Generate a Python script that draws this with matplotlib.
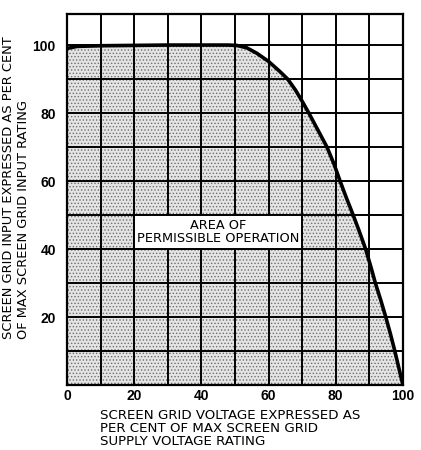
import numpy as np
import matplotlib.pyplot as plt
from matplotlib.patches import Rectangle

# curve (screen grid voltage %, screen grid input %)
voltage_pct = [0, 3, 10, 20, 30, 40, 48, 50.5, 53.5, 56.5, 60, 63.4, 65.7,
               68, 70, 72, 74.7, 77.4, 79.5, 81.3, 83.2, 85.2, 87.1, 88.9,
               90.4, 91.8, 93.4, 94.9, 96.3, 97.6, 98.8, 100]
input_pct = [99.0, 99.6, 99.8, 99.9, 100, 100, 100, 99.9, 99.2, 97.6, 95.2,
             92.2, 90, 86.8, 83.5, 80, 75, 70, 65, 60, 55, 50, 45, 40,
             35, 30, 25, 20, 15, 10, 5, 0]

x_ticks = [0, 20, 40, 60, 80, 100]
y_ticks = [20, 40, 60, 80, 100]
box_label = "AREA OF\nPERMISSIBLE OPERATION"

plt.rcParams['font.family'] = 'DejaVu Sans'
plt.rcParams['hatch.color'] = '#6e6e6e'
plt.rcParams['hatch.linewidth'] = 0.6

fig = plt.figure(figsize=(4.21, 4.5), dpi=100)
ax = fig.add_axes([0.159, 0.1444, 0.798, 0.825])

# stippled permissible area
ax.fill_between(voltage_pct, input_pct, 0, facecolor='#e4e4e4',
                edgecolor='#6e6e6e', hatch='.....', linewidth=0, zorder=1)

# heavy grid
for v in np.arange(10, 100, 10):
    ax.axvline(v, color='black', lw=1.4, zorder=2)
for v in np.arange(10, 101, 10):
    ax.axhline(v, color='black', lw=1.4, zorder=2)

ax.plot(voltage_pct, input_pct, color='black', lw=2.6, zorder=4,
        solid_joinstyle='round')

# white label box over the grid
ax.add_patch(Rectangle((20, 40), 50, 10, facecolor='white',
                       edgecolor='black', lw=1.4, zorder=3))
ax.text(45, 45, box_label, ha='center', va='center', fontsize=9.3,
        linespacing=1.05, zorder=5)

ax.set_xlim(0, 100)
ax.set_ylim(0, 109.2)
ax.set_xticks(x_ticks)
ax.set_yticks(y_ticks)
ax.tick_params(length=0, labelsize=10)
ax.tick_params(axis='x', pad=3)
ax.tick_params(axis='y', pad=8)
for lbl in ax.get_xticklabels() + ax.get_yticklabels():
    lbl.set_fontweight('bold')
    lbl.set_fontfamily('Liberation Sans')
for s in ax.spines.values():
    s.set_linewidth(1.6)

fig.text(0.039, 0.583, "SCREEN GRID INPUT EXPRESSED AS PER CENT\nOF MAX SCREEN GRID INPUT RATING",
         rotation=90, ha='center', va='center', multialignment='left',
         fontsize=9.4, linespacing=1.2)
fig.text(0.237, 0.047, "SCREEN GRID VOLTAGE EXPRESSED AS\nPER CENT OF MAX SCREEN GRID\nSUPPLY VOLTAGE RATING",
         ha='left', va='center', multialignment='left', fontsize=9.6,
         linespacing=1.0)

fig.savefig('out.png', dpi=100)
